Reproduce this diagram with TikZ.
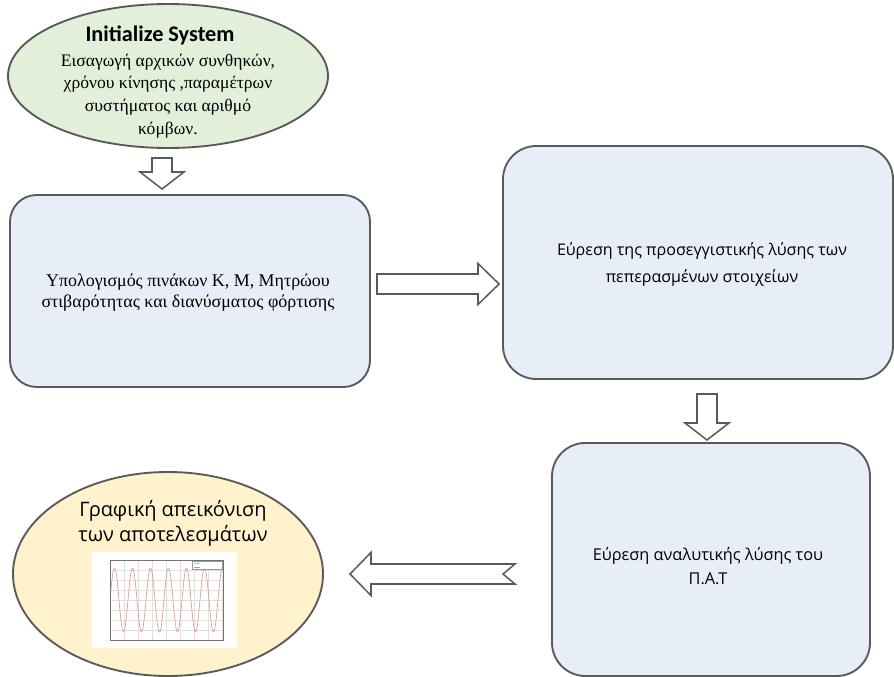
\documentclass[tikz,border=0pt]{standalone}
\usepackage{fontspec}
\setmainfont{Liberation Serif}
\newfontfamily\boxfont{Open Sans}
\newfontfamily\titlefont{Carlito}
\usetikzlibrary{shapes.geometric,calc}

\definecolor{edgegray}{HTML}{5A5A5A}
\definecolor{initgreen}{HTML}{E2EFD9}
\definecolor{stepblue}{HTML}{E8EEF8}
\definecolor{resultyellow}{HTML}{FFF2CC}
\definecolor{curveorange}{HTML}{D9957A}

\tikzset{
  stepbox/.style={draw=edgegray, line width=1.6pt, fill=stepblue, rectangle, inner sep=0pt},
  oval/.style={draw=edgegray, line width=1.6pt, ellipse, inner sep=0pt},
  label/.style={align=center, inner sep=0pt},
  blockarrow/.style={draw=edgegray, line width=1.3pt, fill=white, line join=miter}
}

\newcommand{\arrowdown}[2]{%
  \draw[blockarrow] ($(#1)+(-10,0)$) -- ($(#2)+(-10,-17)$) -- ($(#2)+(-22,-17)$) -- (#2)
    -- ($(#2)+(22,-17)$) -- ($(#2)+(10,-17)$) -- ($(#1)+(10,0)$) -- cycle;}
\newcommand{\arrowright}[2]{%
  \draw[blockarrow] ($(#1)+(0,-10)$) -- ($(#2)+(-21,-10)$) -- ($(#2)+(-21,-20.5)$) -- (#2)
    -- ($(#2)+(-21,20.5)$) -- ($(#2)+(-21,10)$) -- ($(#1)+(0,10)$) -- cycle;}
\newcommand{\arrowleft}[2]{%
  \draw[blockarrow] (#2) -- ($(#2)+(21,-21.5)$) -- ($(#2)+(21,-10)$) -- ($(#1)+(0,-10)$)
    -- ($(#1)+(-12,0)$) -- ($(#1)+(0,10)$) -- ($(#2)+(21,10)$) -- ($(#2)+(21,21.5)$) -- cycle;}

\begin{document}
\begin{tikzpicture}[x=0.3mm, y=-0.3mm]

  \useasboundingbox[fill=white] (0,0) rectangle (894,677);

  \node[oval, fill=initgreen, minimum width=96mm, minimum height=43.2mm] (init) at (168,76) {};
  \node[label, font=\titlefont\bfseries\fontsize{19}{21}\selectfont] (inittitle) at (160,35) {Initialize System};
  \node[label, font=\fontsize{15}{19.5}\selectfont] (inittext) at (168,96)
    {Εισαγωγή αρχικών συνθηκών,\\χρόνου κίνησης ,παραμέτρων\\συστήματος και αριθμό\\κόμβων.};

  \node[stepbox, rounded corners=8mm, minimum width=108mm, minimum height=57.6mm] (matrices) at (190,291) {};
  \node[label, font=\fontsize{15.3}{18}\selectfont] (matricestext) at (188,293)
    {Υπολογισμός πινάκων Κ, Μ, Μητρώου\\στιβαρότητας και διανύσματος φόρτισης};

  \node[stepbox, rounded corners=10mm, minimum width=117mm, minimum height=69.9mm] (fem) at (698,262.5) {};
  \node[label, font=\boxfont\fontsize{13.7}{23}\selectfont] (femtext) at (702,264)
    {Εύρεση της προσεγγιστικής λύσης των\\πεπερασμένων στοιχείων};

  \node[stepbox, rounded corners=10mm, minimum width=95.4mm, minimum height=69.9mm] (exact) at (711,559.5) {};
  \node[label, font=\boxfont\fontsize{13.9}{21}\selectfont] (exacttext) at (708,566)
    {Εύρεση αναλυτικής λύσης του\\Π.Α.Τ};

  \node[oval, fill=resultyellow, minimum width=93mm, minimum height=61.2mm] (results) at (168,574) {};
  \node[label, font=\boxfont\fontsize{17}{21.5}\selectfont] (resultstext) at (173,523)
    {Γραφική απεικόνιση\\των αποτελεσμάτων};

  \node[rectangle, fill=white, minimum width=43.5mm, minimum height=28.8mm, inner sep=0pt] (plotimg) at (164,600) {};
  \begin{scope}
    \clip (110,560) rectangle (223,640);
    \foreach \gx in {110,124,138,152,166,180,194,208,222}
      \draw[black!12, line width=0.2pt] (\gx,560) -- (\gx,640);
    \foreach \gy in {560,570,580,590,600,610,620,630,640}
      \draw[black!12, line width=0.2pt] (110,\gy) -- (223,\gy);
    \draw[curveorange, line width=0.5pt] plot[domain=110:223, samples=200] (\x, {600-32*sin(20*(\x-110))});
  \end{scope}
  \draw[black!55, line width=0.3pt] (110,560) rectangle (223,640);
  \draw[black!40, fill=white, line width=0.2pt] (192,561) rectangle (222,569);
  \draw[cyan!50, line width=0.3pt] (194,563) -- (200,563);
  \draw[curveorange, line width=0.3pt] (194,567) -- (200,567);

  \coordinate (a1s) at (162,158);
  \coordinate (a1e) at (162,189);
  \coordinate (a2s) at (377,284);
  \coordinate (a2e) at (499,284);
  \coordinate (a3s) at (707,394);
  \coordinate (a3e) at (707,440);
  \coordinate (a4s) at (515,574);
  \coordinate (a4e) at (350,574);

  \arrowdown{a1s}{a1e}
  \arrowright{a2s}{a2e}
  \arrowdown{a3s}{a3e}
  \arrowleft{a4s}{a4e}

\end{tikzpicture}
\end{document}
